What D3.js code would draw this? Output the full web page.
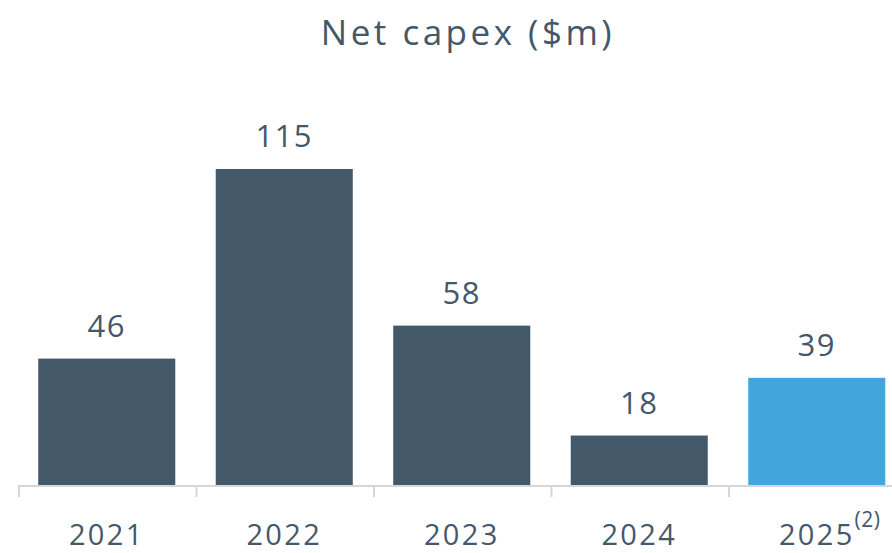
<!DOCTYPE html>
<html>
<head>
<meta charset="utf-8">
<script src="https://cdn.jsdelivr.net/npm/d3@7"></script>
<style>
  html, body { margin: 0; padding: 0; background: #fff; }
  svg { display: block; }
  text { font-family: "Open Sans", "DejaVu Sans", sans-serif; fill: #44586a; }
</style>
</head>
<body>
<svg id="chart" width="892" height="553"></svg>
<script>
// Net capex by year, $m
const years = ["2021", "2022", "2023", "2024", "2025"];
const capex = [46, 115, 58, 18, 39];
const notes = ["", "", "", "", "(2)"];
const barColors = ["#435868", "#435868", "#435868", "#435868", "#42a6dd"];

const svg = d3.select("#chart");
const baseY = 485;
const topY = 169;

const x = d3.scaleBand()
  .domain(years)
  .range([18, 905.5])
  .paddingInner(0.228)
  .paddingOuter(0.114);

const y = d3.scaleLinear()
  .domain([0, 115])
  .range([baseY, topY]);

const step = x.step();
const gap = step * x.paddingInner();

// Bars
svg.selectAll("rect.bar")
  .data(years)
  .join("rect")
  .attr("class", "bar")
  .attr("x", d => x(d))
  .attr("width", x.bandwidth())
  .attr("y", (d, i) => y(capex[i]))
  .attr("height", (d, i) => y(0) - y(capex[i]))
  .attr("fill", (d, i) => barColors[i]);

// Baseline and category separators
svg.append("line")
  .attr("x1", 18).attr("x2", 892)
  .attr("y1", baseY + 1).attr("y2", baseY + 1)
  .attr("stroke", "#d6d6d6").attr("stroke-width", 2);

svg.selectAll("line.sep")
  .data(years)
  .join("line")
  .attr("class", "sep")
  .attr("x1", d => x(d) - gap / 2 + 1)
  .attr("x2", d => x(d) - gap / 2 + 1)
  .attr("y1", baseY).attr("y2", baseY + 12)
  .attr("stroke", "#d6d6d6").attr("stroke-width", 2);

// Value labels
svg.selectAll("text.val")
  .data(years)
  .join("text")
  .attr("class", "val")
  .attr("x", d => x(d) + x.bandwidth() / 2)
  .attr("y", (d, i) => y(capex[i]) - 22)
  .attr("text-anchor", "middle")
  .attr("font-size", 31)
  .attr("letter-spacing", 1.5)
  .text((d, i) => capex[i]);

// Category labels with footnote markers
const cat = svg.selectAll("text.cat")
  .data(years)
  .join("text")
  .attr("class", "cat")
  .attr("x", d => x(d) + x.bandwidth() / 2)
  .attr("y", 545)
  .attr("text-anchor", "middle")
  .attr("font-size", 29)
  .attr("letter-spacing", 2.3);

cat.append("tspan").text(d => d);
cat.filter((d, i) => notes[i])
  .append("tspan")
  .attr("dy", -18)
  .attr("dx", 0)
  .attr("font-size", 21)
  .attr("letter-spacing", 0.5)
  .text(d => notes[years.indexOf(d)]);

// Labels carrying a superscript stay centred on the year itself
cat.filter(d => notes[years.indexOf(d)])
  .attr("text-anchor", "start")
  .attr("x", function(d) {
    const yearWidth = this.firstChild.getComputedTextLength();
    return x(d) + x.bandwidth() / 2 - yearWidth / 2;
  });

// Title
svg.append("text")
  .attr("x", 468)
  .attr("y", 45)
  .attr("text-anchor", "middle")
  .attr("font-size", 35)
  .attr("letter-spacing", 3.5)
  .text("Net capex ($m)");
</script>
</body>
</html>
